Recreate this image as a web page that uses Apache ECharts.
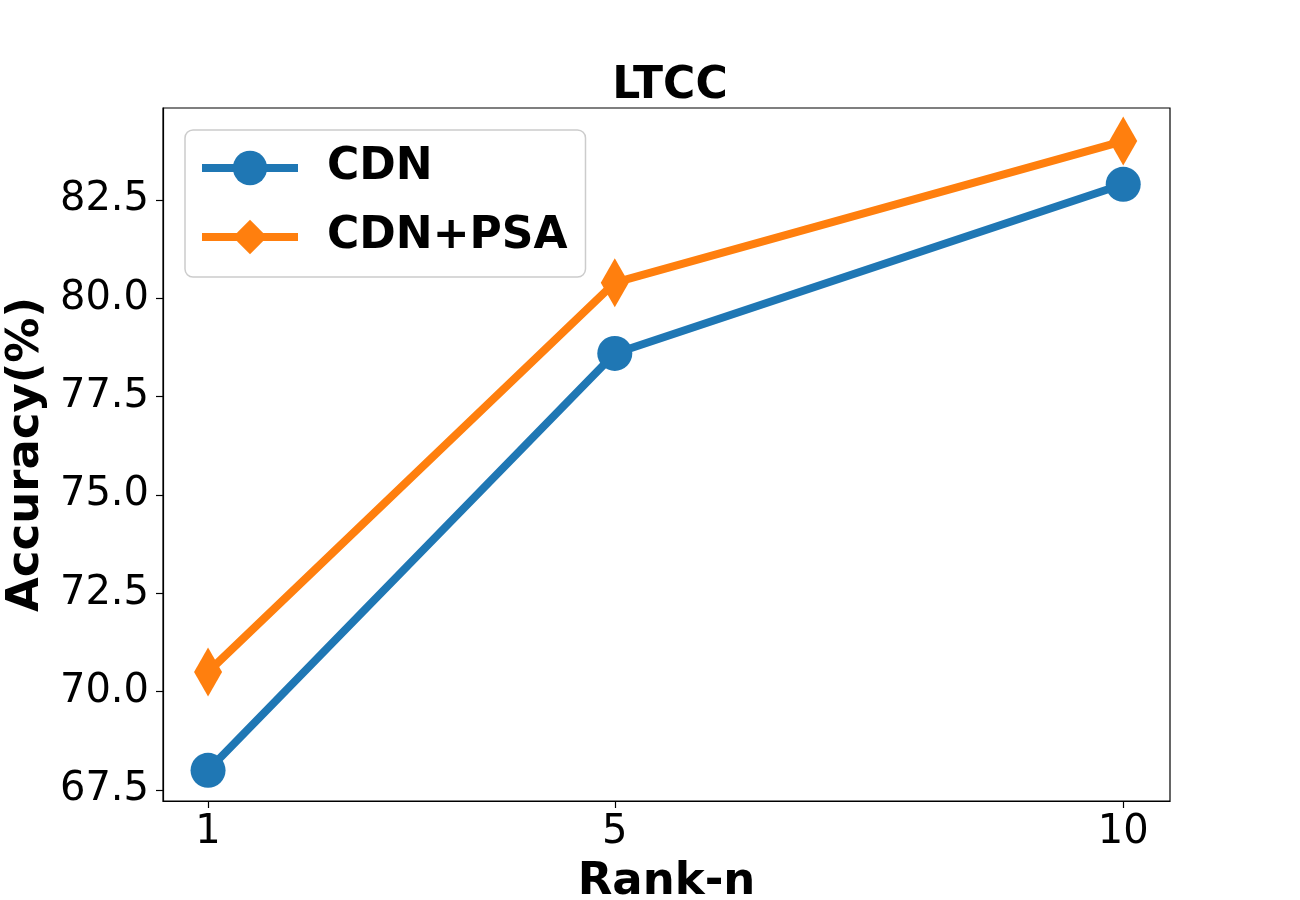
<!DOCTYPE html>
<html>
<head>
<meta charset="UTF-8">
<title>LTCC</title>
<script src="https://cdn.jsdelivr.net/npm/echarts@6/dist/echarts.min.js"></script>
<style>
html, body { margin: 0; padding: 0; background: #fff; }
#chart { width: 1300px; height: 900px; }
</style>
</head>
<body>
<div id="chart"></div>
<script>
// data
const ranks = [1, 5, 10];
const cdn = [68.0, 78.6, 82.9];
const cdnPsa = [70.5, 80.4, 84.0];
const yTicks = [67.5, 70.0, 72.5, 75.0, 77.5, 80.0, 82.5];
const xTicks = [1, 5, 10];

const font = 'DejaVu Sans';
const chart = echarts.init(document.getElementById('chart'));

chart.setOption({
  backgroundColor: '#fff',
  animation: false,
  title: {
    text: 'LTCC',
    left: 665,
    top: 60,
    textAlign: 'center',
    textStyle: { fontFamily: font, fontSize: 44, fontWeight: 'bold', color: '#000' }
  },
  grid: {
    left: 163, right: 130, top: 108, bottom: 99,
    containLabel: false,
    outerBoundsMode: 'none',
    show: true, borderColor: '#000', borderWidth: 1.2
  },
  legend: {
    orient: 'vertical',
    left: 185,
    top: 130,
    padding: [16, 18, 18, 13],
    itemGap: 25,
    itemWidth: 96,
    itemHeight: 43,
    lineStyle: { width: 8 },
    borderColor: '#cccccc',
    borderWidth: 1.5,
    borderRadius: 8,
    textStyle: {
      fontFamily: font, fontSize: 44, fontWeight: 'bold', color: '#000',
      lineHeight: 43, padding: [0, 0, 0, 24]
    }
  },
  xAxis: {
    type: 'value',
    min: 0.557,
    max: 10.46,
    name: 'Rank-n',
    nameLocation: 'middle',
    nameGap: 59,
    nameTextStyle: { fontFamily: font, fontSize: 45, fontWeight: 'bold', color: '#000' },
    axisLine: { lineStyle: { color: '#000', width: 1.2 } },
    axisTick: { inside: false, length: 7, customValues: xTicks, lineStyle: { color: '#000', width: 1.2 } },
    axisLabel: {
      customValues: xTicks,
      margin: 12,
      fontFamily: font, fontSize: 40, color: '#000'
    },
    splitLine: { show: false }
  },
  yAxis: {
    type: 'value',
    min: 67.22,
    max: 84.84,
    name: 'Accuracy(%)',
    nameLocation: 'middle',
    nameGap: 110,
    nameTextStyle: { fontFamily: font, fontSize: 45, fontWeight: 'bold', color: '#000' },
    axisLine: { show: true, lineStyle: { color: '#000', width: 1.2 } },
    axisTick: { show: true, inside: false, length: 7, customValues: yTicks, lineStyle: { color: '#000', width: 1.2 } },
    axisLabel: {
      customValues: yTicks,
      margin: 14,
      fontFamily: font, fontSize: 40, color: '#000',
      formatter: v => v.toFixed(1)
    },
    splitLine: { show: false }
  },
  series: [
    {
      name: 'CDN',
      type: 'line',
      data: ranks.map((r, i) => [r, cdn[i]]),
      symbol: 'circle',
      symbolSize: 35,
      itemStyle: { color: '#1f77b4' },
      lineStyle: { color: '#1f77b4', width: 8 }
    },
    {
      name: 'CDN+PSA',
      type: 'line',
      data: ranks.map((r, i) => [r, cdnPsa[i]]),
      symbol: 'diamond',
      symbolSize: [28, 49],
      itemStyle: { color: '#ff7f0e' },
      lineStyle: { color: '#ff7f0e', width: 8 }
    }
  ]
});
</script>
</body>
</html>
